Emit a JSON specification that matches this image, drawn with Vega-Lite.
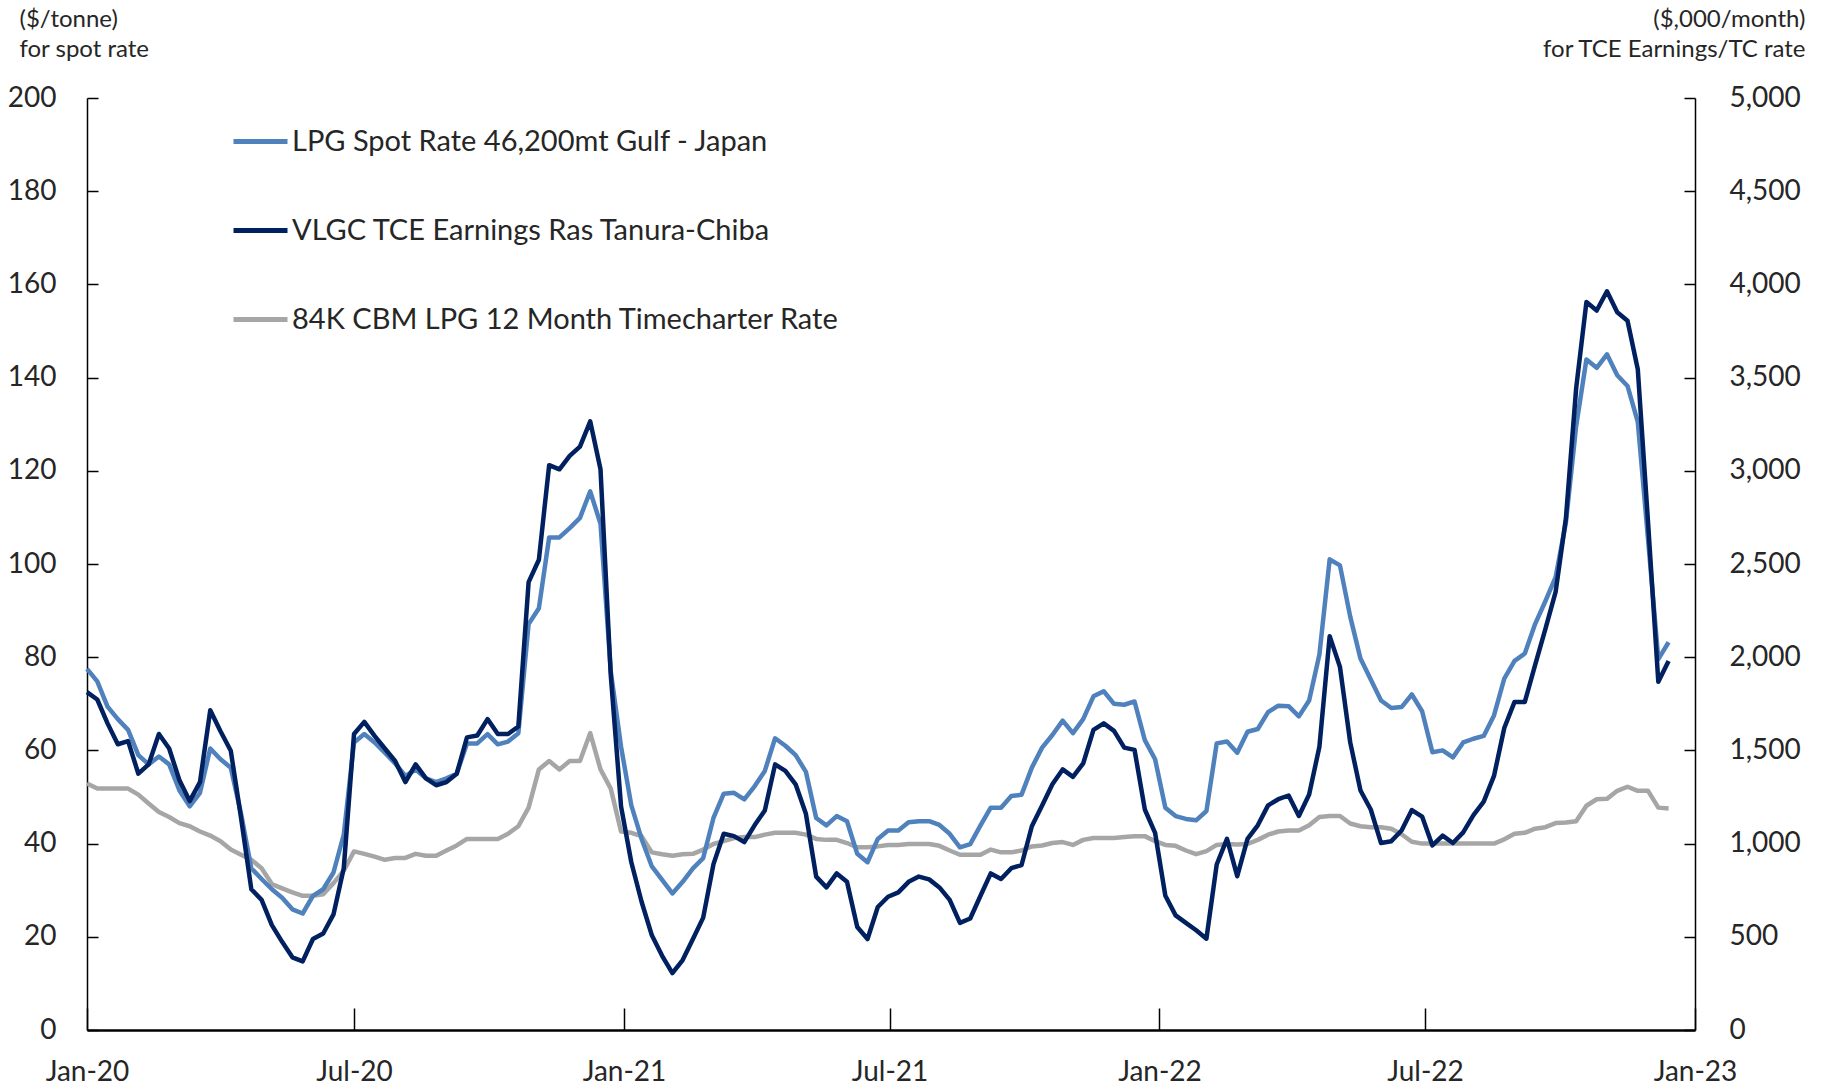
{
"$schema": "https://vega.github.io/schema/vega-lite/v6.json",
"width": 1608, "height": 932,
"autosize": {"type": "none"},
"padding": {"left": 87, "top": 98, "right": 132, "bottom": 58},
"background": "white",
"config": {
 "view": {"stroke": null},
 "font": "Lato",
 "axis": {"grid": false, "labelFont": "Lato", "labelColor": "#262626", "labelFontSize": 28, "domainColor": "#000000", "tickColor": "#000000", "titleFont": "Lato", "titleFontWeight": "normal", "titleColor": "#262626", "titleFontSize": 24},
 "legend": {"labelFont": "Lato", "labelFontSize": 29, "labelColor": "#262626", "labelLimit": 0}
},
"data": {"values": [
{"date":"2020-01-01","spot":77.5,"tce":1813,"tc":1323},
{"date":"2020-01-08","spot":74.8,"tce":1773,"tc":1295},
{"date":"2020-01-15","spot":69.4,"tce":1645,"tc":1295},
{"date":"2020-01-22","spot":66.7,"tce":1533,"tc":1295},
{"date":"2020-01-29","spot":64.4,"tce":1550,"tc":1295},
{"date":"2020-02-05","spot":59,"tce":1375,"tc":1263},
{"date":"2020-02-12","spot":57,"tce":1425,"tc":1215},
{"date":"2020-02-19","spot":58.7,"tce":1588,"tc":1170},
{"date":"2020-02-26","spot":57,"tce":1510,"tc":1143},
{"date":"2020-03-04","spot":51.4,"tce":1340,"tc":1110},
{"date":"2020-03-11","spot":48,"tce":1228,"tc":1093},
{"date":"2020-03-18","spot":50.9,"tce":1330,"tc":1065},
{"date":"2020-03-25","spot":60.4,"tce":1715,"tc":1043},
{"date":"2020-04-01","spot":58.1,"tce":1603,"tc":1013},
{"date":"2020-04-08","spot":56.3,"tce":1498,"tc":968},
{"date":"2020-04-15","spot":46.4,"tce":1138,"tc":940},
{"date":"2020-04-22","spot":34.7,"tce":755,"tc":913},
{"date":"2020-04-29","spot":32.4,"tce":698,"tc":868},
{"date":"2020-05-06","spot":30.2,"tce":563,"tc":783},
{"date":"2020-05-13","spot":28.4,"tce":473,"tc":760},
{"date":"2020-05-20","spot":25.9,"tce":390,"tc":738},
{"date":"2020-05-27","spot":25,"tce":368,"tc":720},
{"date":"2020-06-03","spot":28.8,"tce":488,"tc":720},
{"date":"2020-06-10","spot":30.2,"tce":518,"tc":728},
{"date":"2020-06-17","spot":33.8,"tce":620,"tc":788},
{"date":"2020-06-24","spot":41.9,"tce":868,"tc":855},
{"date":"2020-07-01","spot":61.7,"tce":1588,"tc":958},
{"date":"2020-07-08","spot":63.5,"tce":1653,"tc":945},
{"date":"2020-07-15","spot":61.7,"tce":1578,"tc":930},
{"date":"2020-07-22","spot":59.5,"tce":1510,"tc":913},
{"date":"2020-07-29","spot":57.2,"tce":1443,"tc":923},
{"date":"2020-08-05","spot":54.5,"tce":1330,"tc":923},
{"date":"2020-08-12","spot":55.9,"tce":1425,"tc":945},
{"date":"2020-08-19","spot":54,"tce":1350,"tc":935},
{"date":"2020-08-26","spot":53.2,"tce":1313,"tc":935},
{"date":"2020-09-02","spot":54,"tce":1330,"tc":963},
{"date":"2020-09-09","spot":55,"tce":1375,"tc":990},
{"date":"2020-09-16","spot":61.5,"tce":1570,"tc":1025},
{"date":"2020-09-23","spot":61.5,"tce":1580,"tc":1025},
{"date":"2020-09-30","spot":63.5,"tce":1668,"tc":1025},
{"date":"2020-10-07","spot":61.3,"tce":1588,"tc":1025},
{"date":"2020-10-14","spot":61.9,"tce":1588,"tc":1053},
{"date":"2020-10-21","spot":63.7,"tce":1628,"tc":1093},
{"date":"2020-10-28","spot":87.1,"tce":2403,"tc":1193},
{"date":"2020-11-04","spot":90.5,"tce":2523,"tc":1398},
{"date":"2020-11-11","spot":105.7,"tce":3030,"tc":1443},
{"date":"2020-11-18","spot":105.7,"tce":3008,"tc":1398},
{"date":"2020-11-25","spot":107.7,"tce":3080,"tc":1443},
{"date":"2020-12-02","spot":109.9,"tce":3130,"tc":1443},
{"date":"2020-12-09","spot":115.6,"tce":3265,"tc":1593},
{"date":"2020-12-16","spot":108.6,"tce":3008,"tc":1398},
{"date":"2020-12-23","spot":77,"tce":1903,"tc":1295},
{"date":"2020-12-30","spot":60.8,"tce":1200,"tc":1065},
{"date":"2021-01-06","spot":48.2,"tce":900,"tc":1058},
{"date":"2021-01-13","spot":41,"tce":688,"tc":1040},
{"date":"2021-01-20","spot":35.1,"tce":508,"tc":953},
{"date":"2021-01-27","spot":32.2,"tce":398,"tc":943},
{"date":"2021-02-03","spot":29.3,"tce":305,"tc":935},
{"date":"2021-02-10","spot":31.8,"tce":375,"tc":943},
{"date":"2021-02-17","spot":34.7,"tce":488,"tc":945},
{"date":"2021-02-24","spot":36.9,"tce":603,"tc":968},
{"date":"2021-03-03","spot":45.5,"tce":890,"tc":998},
{"date":"2021-03-10","spot":50.7,"tce":1053,"tc":1013},
{"date":"2021-03-17","spot":50.9,"tce":1040,"tc":1030},
{"date":"2021-03-24","spot":49.5,"tce":1008,"tc":1035},
{"date":"2021-03-31","spot":52.3,"tce":1098,"tc":1035},
{"date":"2021-04-07","spot":55.6,"tce":1178,"tc":1048},
{"date":"2021-04-14","spot":62.6,"tce":1425,"tc":1058},
{"date":"2021-04-21","spot":61,"tce":1390,"tc":1058},
{"date":"2021-04-28","spot":59,"tce":1318,"tc":1058},
{"date":"2021-05-05","spot":55.4,"tce":1160,"tc":1048},
{"date":"2021-05-12","spot":45.5,"tce":823,"tc":1025},
{"date":"2021-05-19","spot":43.9,"tce":765,"tc":1020},
{"date":"2021-05-26","spot":45.9,"tce":840,"tc":1020},
{"date":"2021-06-02","spot":44.8,"tce":795,"tc":1003},
{"date":"2021-06-09","spot":37.8,"tce":553,"tc":980},
{"date":"2021-06-16","spot":36,"tce":488,"tc":980},
{"date":"2021-06-23","spot":41,"tce":660,"tc":985},
{"date":"2021-06-30","spot":42.8,"tce":715,"tc":993},
{"date":"2021-07-07","spot":42.8,"tce":738,"tc":993},
{"date":"2021-07-14","spot":44.6,"tce":795,"tc":998},
{"date":"2021-07-21","spot":44.8,"tce":823,"tc":998},
{"date":"2021-07-28","spot":44.8,"tce":808,"tc":998},
{"date":"2021-08-04","spot":44,"tce":765,"tc":988},
{"date":"2021-08-11","spot":42.1,"tce":698,"tc":963},
{"date":"2021-08-18","spot":39.2,"tce":575,"tc":940},
{"date":"2021-08-25","spot":39.9,"tce":598,"tc":940},
{"date":"2021-09-01","spot":43.9,"tce":720,"tc":940},
{"date":"2021-09-08","spot":47.7,"tce":840,"tc":968},
{"date":"2021-09-15","spot":47.7,"tce":810,"tc":953},
{"date":"2021-09-22","spot":50.2,"tce":868,"tc":953},
{"date":"2021-09-29","spot":50.5,"tce":885,"tc":963},
{"date":"2021-10-06","spot":56.3,"tce":1093,"tc":985},
{"date":"2021-10-13","spot":60.6,"tce":1205,"tc":990},
{"date":"2021-10-20","spot":63.3,"tce":1318,"tc":1003},
{"date":"2021-10-27","spot":66.4,"tce":1398,"tc":1008},
{"date":"2021-11-03","spot":63.7,"tce":1358,"tc":993},
{"date":"2021-11-10","spot":66.7,"tce":1430,"tc":1020},
{"date":"2021-11-17","spot":71.6,"tce":1610,"tc":1030},
{"date":"2021-11-24","spot":72.7,"tce":1645,"tc":1030},
{"date":"2021-12-01","spot":70,"tce":1605,"tc":1030},
{"date":"2021-12-08","spot":69.8,"tce":1515,"tc":1035},
{"date":"2021-12-15","spot":70.5,"tce":1503,"tc":1040},
{"date":"2021-12-22","spot":62.2,"tce":1183,"tc":1040},
{"date":"2021-12-29","spot":58.1,"tce":1058,"tc":1013},
{"date":"2022-01-05","spot":47.7,"tce":720,"tc":993},
{"date":"2022-01-12","spot":45.9,"tce":615,"tc":988},
{"date":"2022-01-19","spot":45.3,"tce":575,"tc":963},
{"date":"2022-01-26","spot":45,"tce":535,"tc":943},
{"date":"2022-02-02","spot":47,"tce":490,"tc":960},
{"date":"2022-02-09","spot":61.5,"tce":888,"tc":993},
{"date":"2022-02-16","spot":61.9,"tce":1025,"tc":998},
{"date":"2022-02-23","spot":59.5,"tce":825,"tc":995},
{"date":"2022-03-02","spot":64,"tce":1025,"tc":998},
{"date":"2022-03-09","spot":64.6,"tce":1098,"tc":1020},
{"date":"2022-03-16","spot":68.2,"tce":1205,"tc":1048},
{"date":"2022-03-23","spot":69.6,"tce":1238,"tc":1065},
{"date":"2022-03-30","spot":69.5,"tce":1258,"tc":1070},
{"date":"2022-04-06","spot":67.3,"tce":1148,"tc":1070},
{"date":"2022-04-13","spot":70.7,"tce":1263,"tc":1098},
{"date":"2022-04-20","spot":80.6,"tce":1520,"tc":1143},
{"date":"2022-04-27","spot":101,"tce":2113,"tc":1148},
{"date":"2022-05-04","spot":99.7,"tce":1948,"tc":1148},
{"date":"2022-05-11","spot":88.7,"tce":1543,"tc":1108},
{"date":"2022-05-18","spot":79.7,"tce":1285,"tc":1093},
{"date":"2022-05-25","spot":75.2,"tce":1183,"tc":1088},
{"date":"2022-06-01","spot":70.7,"tce":1003,"tc":1088},
{"date":"2022-06-08","spot":69.1,"tce":1013,"tc":1080},
{"date":"2022-06-15","spot":69.3,"tce":1070,"tc":1050},
{"date":"2022-06-22","spot":72,"tce":1180,"tc":1010},
{"date":"2022-06-29","spot":68.4,"tce":1145,"tc":1000},
{"date":"2022-07-06","spot":59.6,"tce":990,"tc":1000},
{"date":"2022-07-13","spot":60,"tce":1043,"tc":1000},
{"date":"2022-07-20","spot":58.5,"tce":1003,"tc":1000},
{"date":"2022-07-27","spot":61.7,"tce":1060,"tc":1000},
{"date":"2022-08-03","spot":62.5,"tce":1153,"tc":1000},
{"date":"2022-08-10","spot":63.1,"tce":1225,"tc":1000},
{"date":"2022-08-17","spot":67.5,"tce":1363,"tc":1000},
{"date":"2022-08-24","spot":75.4,"tce":1620,"tc":1023},
{"date":"2022-08-31","spot":79.2,"tce":1760,"tc":1053},
{"date":"2022-09-07","spot":80.8,"tce":1760,"tc":1058},
{"date":"2022-09-14","spot":87.1,"tce":1958,"tc":1080},
{"date":"2022-09-21","spot":92,"tce":2150,"tc":1088},
{"date":"2022-09-28","spot":97.2,"tce":2350,"tc":1110},
{"date":"2022-10-05","spot":108.9,"tce":2745,"tc":1113},
{"date":"2022-10-12","spot":129.6,"tce":3443,"tc":1120},
{"date":"2022-10-19","spot":143.9,"tce":3905,"tc":1203},
{"date":"2022-10-26","spot":142.1,"tce":3860,"tc":1238},
{"date":"2022-11-02","spot":145,"tce":3963,"tc":1240},
{"date":"2022-11-09","spot":140.5,"tce":3850,"tc":1283},
{"date":"2022-11-16","spot":138.2,"tce":3805,"tc":1305},
{"date":"2022-11-23","spot":130.5,"tce":3545,"tc":1283},
{"date":"2022-11-30","spot":105.3,"tce":2723,"tc":1283},
{"date":"2022-12-07","spot":79.6,"tce":1868,"tc":1193},
{"date":"2022-12-14","spot":83.2,"tce":1980,"tc":1188}
]},
"layer": [
 {
  "mark": {"type": "line", "strokeWidth": 4.5, "strokeJoin": "round"},
  "encoding": {
   "x": {"field": "date", "type": "temporal",
     "scale": {"type": "utc", "domain": [{"year": 2020, "month": 1, "date": 1, "utc": true}, {"year": 2023, "month": 1, "date": 1, "utc": true}]},
     "axis": {"title": null, "format": "%b-%y", "values": [{"year": 2020, "month": 1, "date": 1, "utc": true}, {"year": 2020, "month": 7, "date": 1, "utc": true}, {"year": 2021, "month": 1, "date": 1, "utc": true}, {"year": 2021, "month": 7, "date": 1, "utc": true}, {"year": 2022, "month": 1, "date": 1, "utc": true}, {"year": 2022, "month": 7, "date": 1, "utc": true}, {"year": 2023, "month": 1, "date": 1, "utc": true}], "tickSize": -22, "tickWidth": 1.5, "labelPadding": 50, "domainWidth": 2.5, "labelFlush": false, "labelOverlap": false}},
   "y": {"field": "tc", "type": "quantitative", "scale": {"domain": [0, 5000]},
     "axis": {"orient": "right", "values": [0, 500, 1000, 1500, 2000, 2500, 3000, 3500, 4000, 4500, 5000], "format": ",d", "tickSize": -11, "tickWidth": 1.5, "labelPadding": 45, "domainWidth": 1.5,
       "title": ["($,000/month)", "for TCE Earnings/TC rate"], "titleAngle": 0, "titleAlign": "right", "titleBaseline": "top", "titleX": 110, "titleY": -91, "titleLineHeight": 30}},
   "color": {"datum": "84K CBM LPG 12 Month Timecharter Rate", "type": "nominal",
     "scale": {"domain": ["LPG Spot Rate 46,200mt Gulf - Japan", "VLGC TCE Earnings Ras Tanura-Chiba", "84K CBM LPG 12 Month Timecharter Rate"], "range": ["#4F81BD", "#002060", "#A6A6A6"]},
     "legend": {"title": null, "orient": "none", "legendX": 144, "legendY": 14, "padding": 0, "symbolType": "stroke", "symbolSize": 2916, "symbolStrokeWidth": 5, "labelOffset": 2, "rowPadding": 44, "labelLimit": 0}}
  }
 },
 {
  "mark": {"type": "line", "strokeWidth": 4.5, "strokeJoin": "round"},
  "encoding": {
   "x": {"field": "date", "type": "temporal"},
   "y": {"field": "spot", "type": "quantitative", "scale": {"domain": [0, 200]},
     "axis": {"orient": "left", "values": [0, 20, 40, 60, 80, 100, 120, 140, 160, 180, 200], "tickSize": -11, "tickWidth": 1.5, "labelPadding": 42, "domainWidth": 1.5,
       "title": ["($/tonne)", "for spot rate"], "titleAngle": 0, "titleAlign": "left", "titleBaseline": "top", "titleX": -68, "titleY": -91, "titleLineHeight": 30}},
   "color": {"datum": "LPG Spot Rate 46,200mt Gulf - Japan", "type": "nominal"}
  }
 },
 {
  "mark": {"type": "line", "strokeWidth": 4.5, "strokeJoin": "round"},
  "encoding": {
   "x": {"field": "date", "type": "temporal"},
   "y": {"field": "tce", "type": "quantitative", "scale": {"domain": [0, 5000]}, "axis": null},
   "color": {"datum": "VLGC TCE Earnings Ras Tanura-Chiba", "type": "nominal"}
  }
 }
],
"resolve": {"scale": {"y": "independent"}}
}
